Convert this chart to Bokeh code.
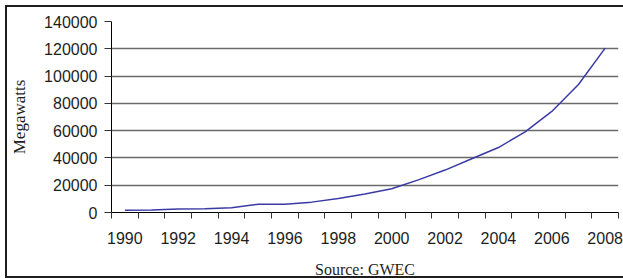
from bokeh.plotting import figure
from bokeh.models import FixedTicker, NumeralTickFormatter, Range1d
from bokeh.embed import file_html
from bokeh.resources import INLINE

years = list(range(1990, 2009))
megawatts = [1700, 1900, 2600, 2700, 3500, 6000, 6100, 7600, 10200, 13600,
             17400, 23900, 31100, 39400, 47600, 59100, 74100, 93800, 120500]
year_labels = [1990, 1992, 1994, 1996, 1998, 2000, 2002, 2004, 2006, 2008]
y_ticks = [0, 20000, 40000, 60000, 80000, 100000, 120000, 140000]
boundaries = [y - 0.5 for y in years] + [years[-1] + 0.5]

p = figure(width=618, height=273, output_backend="svg", toolbar_location=None,
           x_range=Range1d(boundaries[0], boundaries[-1]),
           y_range=Range1d(0, 140000),
           min_border_left=97, min_border_right=7, min_border_top=14, min_border_bottom=61)
p.styles = {"margin-left": "5px", "margin-top": "5px", "box-sizing": "border-box",
            "border-left": "2px solid #1e1e1e", "border-top": "2px solid #1e1e1e",
            "border-bottom": "2px solid #1e1e1e"}
p.outline_line_color = None
p.background_fill_color = "white"
p.border_fill_color = "white"

p.line(years, megawatts, line_color="#3a3aa6", line_width=1.5)

# grid
p.xgrid.grid_line_color = None
p.ygrid.ticker = FixedTicker(ticks=y_ticks)
p.ygrid.grid_line_color = "#6a6a6a"
p.ygrid.grid_line_width = 1.5

# y axis
p.yaxis.ticker = FixedTicker(ticks=y_ticks)
p.yaxis.formatter = NumeralTickFormatter(format="0")
p.yaxis.major_tick_out = 7
p.yaxis.major_tick_in = 0
p.yaxis.minor_tick_line_color = None
p.yaxis.major_tick_line_color = "#333333"
p.yaxis.axis_line_color = "black"
p.yaxis.major_label_standoff = 7
p.yaxis.major_label_text_font = "Liberation Sans"
p.yaxis.major_label_text_font_size = "16px"
p.yaxis.major_label_text_color = "#1e1e1e"
p.yaxis.axis_label = "Megawatts"
p.yaxis.axis_label_text_font = "Liberation Serif"
p.yaxis.axis_label_text_font_style = "normal"
p.yaxis.axis_label_text_font_size = "17px"
p.yaxis.axis_label_text_color = "#1e1e1e"
p.yaxis.axis_label_standoff = 12

# x axis
p.xaxis.ticker = FixedTicker(ticks=year_labels, minor_ticks=boundaries)
p.xaxis.major_tick_line_color = None
p.xaxis.major_tick_out = 6
p.xaxis.major_tick_in = 0
p.xaxis.minor_tick_out = 6
p.xaxis.minor_tick_in = 0
p.xaxis.minor_tick_line_color = "#333333"
p.xaxis.axis_line_color = "black"
p.xaxis.major_label_standoff = 13
p.xaxis.major_label_text_font = "Liberation Sans"
p.xaxis.major_label_text_font_size = "16px"
p.xaxis.major_label_text_color = "#1e1e1e"
p.xaxis.axis_label = "Source: GWEC"
p.xaxis.axis_label_text_font = "Liberation Serif"
p.xaxis.axis_label_text_font_style = "normal"
p.xaxis.axis_label_text_font_size = "16px"
p.xaxis.axis_label_text_color = "#1e1e1e"
p.xaxis.axis_label_standoff = 14

open("out.html", "w").write(file_html(p, INLINE))
